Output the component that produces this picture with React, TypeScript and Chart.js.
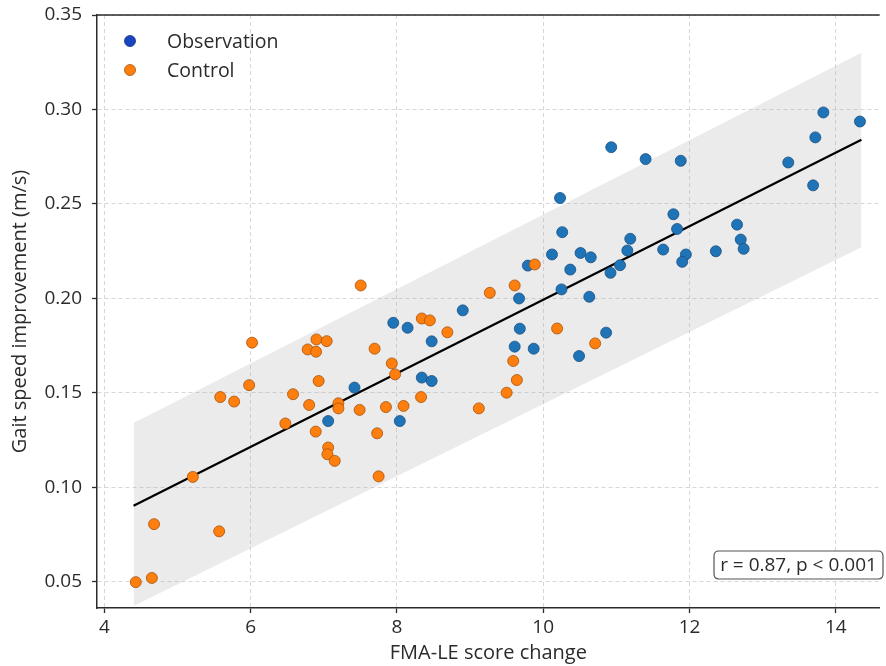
import React, { useEffect, useRef } from "react";
import { Chart, registerables } from "chart.js";
Chart.register(...registerables);

// ---- data ----
const obsX = [8.9, 7.95, 8.146, 8.475, 8.34, 8.475, 7.42, 7.06, 8.04, 10.93, 11.4, 10.23, 11.78, 10.26, 11.19, 11.15, 11.64, 10.12, 10.51, 10.65, 9.79, 10.37, 11.05, 10.92, 10.25, 9.67, 10.63, 9.68, 10.86, 9.61, 9.87, 10.49, 13.83, 14.33, 13.72, 11.88, 13.35, 13.69, 11.83, 12.65, 12.7, 12.74, 12.36, 11.95, 11.9];
const obsY = [0.1936, 0.187, 0.1844, 0.1772, 0.158, 0.1562, 0.1527, 0.135, 0.135, 0.28, 0.2737, 0.2531, 0.2445, 0.235, 0.2315, 0.2253, 0.2258, 0.2232, 0.224, 0.2217, 0.2173, 0.2152, 0.2175, 0.2135, 0.2047, 0.1999, 0.2008, 0.1839, 0.1818, 0.1744, 0.1733, 0.1694, 0.2984, 0.2936, 0.2852, 0.2728, 0.2719, 0.2598, 0.2367, 0.239, 0.2311, 0.2262, 0.2249, 0.2232, 0.2193];

const ctrlX = [4.43, 4.65, 4.68, 5.57, 5.21, 5.585, 5.775, 5.98, 6.02, 6.475, 6.58, 7.505, 8.34, 8.45, 8.69, 6.9, 7.04, 6.78, 6.895, 7.695, 7.93, 7.975, 6.93, 8.33, 6.8, 7.2, 7.2, 7.49, 7.85, 8.09, 9.12, 6.89, 7.73, 7.06, 7.05, 7.15, 7.75, 9.885, 9.61, 9.27, 10.19, 10.71, 9.59, 9.64, 9.5];
const ctrlY = [0.0497, 0.0519, 0.0804, 0.0766, 0.1054, 0.1477, 0.1453, 0.154, 0.1765, 0.1337, 0.1492, 0.2068, 0.1893, 0.1883, 0.182, 0.1782, 0.1773, 0.1729, 0.1717, 0.1733, 0.1655, 0.1597, 0.1562, 0.1477, 0.1435, 0.1444, 0.1417, 0.1409, 0.1424, 0.143, 0.1417, 0.1294, 0.1285, 0.121, 0.1174, 0.1139, 0.1057, 0.2179, 0.2068, 0.2029, 0.184, 0.1761, 0.1668, 0.1567, 0.15];

const fitX = [4.4, 14.35];
const fitY = [0.0901, 0.284];
const bandUpperY = [0.134, 0.33];
const bandLowerY = [0.037, 0.227];

const xTicks = [4, 6, 8, 10, 12, 14];
const yTicks = [0.05, 0.1, 0.15, 0.2, 0.25, 0.3, 0.35];
const seriesLabels = ["Observation", "Control"];
const xTitle = "FMA-LE score change";
const yTitle = "Gait speed improvement (m/s)";
const statText = "r = 0.87, p < 0.001";

const FONT = '"Open Sans", "DejaVu Sans", sans-serif';
const TEXT = "#2b2b2b";
const BLUE = "#1f74b8";
const BLUE_EDGE = "#1a4f80";
const ORANGE = "#ff7f0e";
const ORANGE_EDGE = "#a5520c";
const LEGEND_COLORS = ["#1a45c2", ORANGE];

const zip = (xs: number[], ys: number[]) => xs.map((x, i) => ({ x, y: ys[i] }));

const overlayPlugin = {
  id: "overlay",
  afterDraw(chart: any) {
    const { ctx, chartArea } = chart;
    ctx.save();
    // top spine (right spine lies outside the picture)
    ctx.strokeStyle = TEXT;
    ctx.lineWidth = 1.5;
    ctx.beginPath();
    ctx.moveTo(chartArea.left, chartArea.top);
    ctx.lineTo(chartArea.right, chartArea.top);
    ctx.stroke();

    // legend
    ctx.font = `19.5px ${FONT}`;
    ctx.textBaseline = "middle";
    ctx.textAlign = "left";
    seriesLabels.forEach((lab, i) => {
      const y = chartArea.top + 26 + i * 29;
      const x = chartArea.left + 33;
      ctx.beginPath();
      ctx.arc(x, y, 5.5, 0, Math.PI * 2);
      ctx.fillStyle = LEGEND_COLORS[i];
      ctx.fill();
      ctx.lineWidth = 0.8;
      ctx.strokeStyle = i === 0 ? "#12307f" : ORANGE_EDGE;
      ctx.stroke();
      ctx.fillStyle = TEXT;
      ctx.fillText(lab, chartArea.left + 70, y + 1);
    });

    // stat box
    const bx = 714, by = 551, bw = 169, bh = 28, r = 5;
    ctx.beginPath();
    ctx.moveTo(bx + r, by);
    ctx.lineTo(bx + bw - r, by);
    ctx.quadraticCurveTo(bx + bw, by, bx + bw, by + r);
    ctx.lineTo(bx + bw, by + bh - r);
    ctx.quadraticCurveTo(bx + bw, by + bh, bx + bw - r, by + bh);
    ctx.lineTo(bx + r, by + bh);
    ctx.quadraticCurveTo(bx, by + bh, bx, by + bh - r);
    ctx.lineTo(bx, by + r);
    ctx.quadraticCurveTo(bx, by, bx + r, by);
    ctx.closePath();
    ctx.fillStyle = "#ffffff";
    ctx.fill();
    ctx.strokeStyle = "#555555";
    ctx.lineWidth = 1.2;
    ctx.stroke();
    ctx.fillStyle = TEXT;
    ctx.textAlign = "center";
    ctx.font = `19px ${FONT}`;
    ctx.fillText(statText, bx + bw / 2, by + bh / 2 + 1);
    ctx.restore();
  },
};

export default function App() {
  const ref = useRef<HTMLCanvasElement | null>(null);
  useEffect(() => {
    if (!ref.current) return;
    const chart = new Chart(ref.current, {
      type: "scatter",
      data: {
        datasets: [
          {
            label: "band-lower",
            data: zip(fitX, bandLowerY),
            showLine: true,
            borderWidth: 0,
            pointRadius: 0,
            fill: false,
            order: 5,
          } as any,
          {
            label: "band-upper",
            data: zip(fitX, bandUpperY),
            showLine: true,
            borderWidth: 0,
            pointRadius: 0,
            backgroundColor: "rgba(170,170,170,0.24)",
            fill: 0,
            order: 4,
          } as any,
          {
            label: "fit",
            data: zip(fitX, fitY),
            showLine: true,
            borderColor: "#000000",
            borderWidth: 2.2,
            pointRadius: 0,
            order: 3,
          } as any,
          {
            label: seriesLabels[0],
            data: zip(obsX, obsY),
            backgroundColor: BLUE,
            borderColor: BLUE_EDGE,
            borderWidth: 0.8,
            pointRadius: 5.5,
            order: 2,
          },
          {
            label: seriesLabels[1],
            data: zip(ctrlX, ctrlY),
            backgroundColor: ORANGE,
            borderColor: ORANGE_EDGE,
            borderWidth: 0.8,
            pointRadius: 5.5,
            order: 1,
          },
        ],
      },
      options: {
        responsive: false,
        animation: false,
        events: [],
        devicePixelRatio: 1,
        layout: { padding: { top: 15, right: 0, left: 0, bottom: 0 } },
        plugins: {
          legend: { display: false },
          tooltip: { enabled: false },
        },
        scales: {
          x: {
            type: "linear",
            min: 3.9,
            max: 14.6,
            afterBuildTicks: (s: any) => {
              s.ticks = xTicks.map((v) => ({ value: v }));
            },
            afterFit: (s: any) => {
              s.height = 58;
              s.paddingLeft = 0;
              s.paddingRight = 0;
            },
            ticks: {
              color: TEXT,
              font: { family: FONT, size: 19 },
              padding: 3,
              maxRotation: 0,
              callback: (v: any) => String(v),
            },
            grid: {
              color: "#d2d2d2",
              lineWidth: 0.9,
              tickColor: TEXT,
              tickLength: 5,
              tickWidth: 1.3,
            },
            border: { display: true, color: TEXT, width: 1.5, dash: [4, 3] },
            title: {
              display: true,
              text: xTitle,
              color: TEXT,
              font: { family: FONT, size: 20 },
              padding: { top: 0, bottom: 1 },
            },
          },
          y: {
            type: "linear",
            min: 0.036,
            max: 0.35,
            afterBuildTicks: (s: any) => {
              s.ticks = yTicks.map((v) => ({ value: v }));
            },
            afterFit: (s: any) => {
              s.width = 97;
              s.paddingTop = 0;
              s.paddingBottom = 0;
            },
            ticks: {
              color: TEXT,
              font: { family: FONT, size: 19 },
              padding: 10,
              callback: (v: any) => Number(v).toFixed(2),
            },
            grid: {
              color: "#d2d2d2",
              lineWidth: 0.9,
              tickColor: TEXT,
              tickLength: 5,
              tickWidth: 1.3,
            },
            border: { display: true, color: TEXT, width: 1.5, dash: [4, 3] },
            title: {
              display: true,
              text: yTitle,
              color: TEXT,
              font: { family: FONT, size: 20 },
              padding: { top: 8, bottom: 0 },
            },
          },
        },
      } as any,
      plugins: [overlayPlugin],
    });
    return () => chart.destroy();
  }, []);
  return (
    <div style={{ position: "fixed", left: 0, top: 0, width: 886, height: 666, background: "#ffffff" }}>
      <canvas ref={ref} width={886} height={666} style={{ width: 886, height: 666, display: "block" }} />
    </div>
  );
}
